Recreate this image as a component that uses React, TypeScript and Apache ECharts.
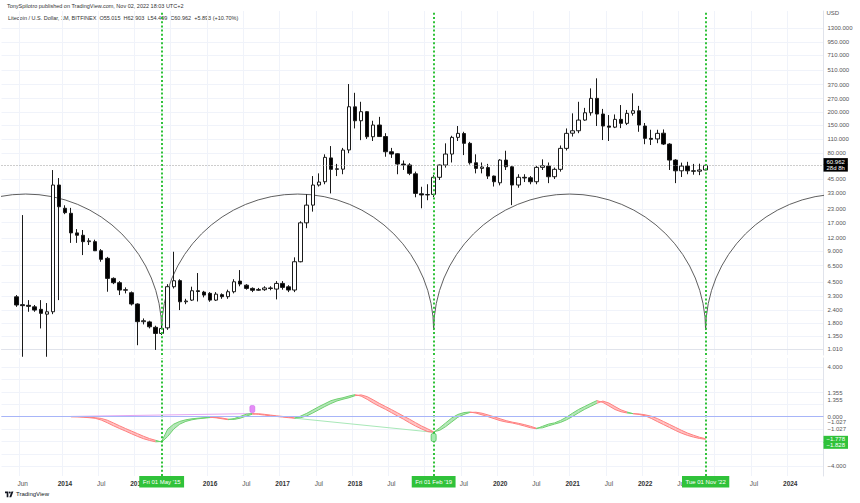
import React, { useEffect, useRef } from 'react';
import * as echarts from 'echarts';

const FONT = '"Liberation Sans", Arial, sans-serif';

// ---- data ----
const firstMonth = '2013-03';
const monthCount = 136;
const monthNames = ['Jan', 'Feb', 'Mar', 'Apr', 'May', 'Jun', 'Jul', 'Aug', 'Sep', 'Oct', 'Nov', 'Dec'];
const firstLabelMonth = '2013-06';

const headerLine = 'TonySpilotro published on TradingView.com, Nov 02, 2022 18:03 UTC+2';
const symbolTitle = 'Litecoin / U.S. Dollar, 1M, BITFINEX';
const ohlcLegend = ['O55.015', 'H62.903', 'L54.499', 'C60.962', '+5.893 (+10.70%)'];

// month, open, high, low, close
const candles: [string, number, number, number, number][] = [
  ['2013-05', 3.24, 3.37, 2.59, 2.70],
  ['2013-06', 2.72, 20.1, 0.85, 2.66],
  ['2013-07', 2.68, 3.01, 2.32, 2.62],
  ['2013-08', 2.59, 2.70, 2.32, 2.41],
  ['2013-09', 2.45, 3.01, 1.60, 2.24],
  ['2013-10', 2.20, 2.82, 0.85, 2.32],
  ['2013-11', 2.32, 54.9, 2.20, 39.3],
  ['2013-12', 39.3, 45.9, 3.01, 24.2],
  ['2014-01', 23.4, 25.0, 20.5, 21.2],
  ['2014-02', 20.9, 23.6, 10.8, 13.5],
  ['2014-03', 13.5, 14.7, 10.8, 12.8],
  ['2014-04', 12.8, 14.4, 8.23, 11.1],
  ['2014-05', 11.1, 12.0, 10.3, 11.3],
  ['2014-06', 11.1, 11.6, 9.0, 9.06],
  ['2014-07', 9.06, 9.4, 7.09, 7.48],
  ['2014-08', 7.65, 7.9, 3.63, 4.89],
  ['2014-09', 4.89, 5.0, 4.3, 4.44],
  ['2014-10', 4.44, 4.6, 3.37, 3.77],
  ['2014-11', 3.75, 4.0, 3.5, 3.80],
  ['2014-12', 3.55, 3.65, 2.67, 2.76],
  ['2015-01', 2.76, 2.8, 1.10, 1.86],
  ['2015-02', 1.86, 2.0, 1.75, 1.90],
  ['2015-03', 1.85, 1.9, 1.60, 1.66],
  ['2015-04', 1.64, 1.7, 0.99, 1.43],
  ['2015-05', 1.43, 1.72, 1.38, 1.60],
  ['2015-06', 1.62, 4.3, 1.55, 4.06],
  ['2015-07', 4.06, 8.86, 3.9, 4.64],
  ['2015-08', 4.65, 4.8, 2.41, 2.90],
  ['2015-09', 2.90, 3.1, 2.75, 2.95],
  ['2015-10', 3.01, 4.06, 2.95, 3.71],
  ['2015-11', 3.71, 5.51, 2.92, 3.65],
  ['2015-12', 3.60, 3.7, 3.2, 3.37],
  ['2016-01', 3.50, 3.6, 2.9, 3.01],
  ['2016-02', 3.01, 3.6, 2.95, 3.44],
  ['2016-03', 3.40, 3.5, 3.1, 3.25],
  ['2016-04', 3.25, 3.8, 3.1, 3.63],
  ['2016-05', 3.63, 4.8, 3.5, 4.53],
  ['2016-06', 4.6, 5.89, 4.1, 4.31],
  ['2016-07', 4.2, 4.3, 3.8, 3.91],
  ['2016-08', 3.91, 4.0, 3.6, 3.75],
  ['2016-09', 3.75, 3.95, 3.7, 3.82],
  ['2016-10', 3.80, 4.1, 3.7, 3.95],
  ['2016-11', 3.95, 4.1, 3.75, 3.90],
  ['2016-12', 3.85, 4.6, 3.06, 4.37],
  ['2017-01', 4.37, 4.6, 3.8, 4.0],
  ['2017-02', 4.05, 4.2, 3.6, 3.77],
  ['2017-03', 3.77, 7.82, 3.6, 7.09],
  ['2017-04', 7.09, 17.5, 7.0, 16.9],
  ['2017-05', 16.9, 32.0, 15.0, 25.1],
  ['2017-06', 25.1, 48.0, 21.7, 39.3],
  ['2017-07', 39.3, 51.0, 38.0, 42.0],
  ['2017-08', 42.3, 78.0, 40.0, 72.9],
  ['2017-09', 72.0, 93.8, 32.6, 55.8],
  ['2017-10', 55.8, 63.0, 48.0, 56.5],
  ['2017-11', 56.0, 90.0, 50.0, 85.8],
  ['2017-12', 86.0, 374.6, 80.0, 225.6],
  ['2018-01', 225.0, 308.0, 139.0, 165.0],
  ['2018-02', 165.0, 252.0, 107.0, 202.0],
  ['2018-03', 202.0, 205.0, 110.0, 115.5],
  ['2018-04', 115.5, 165.0, 105.0, 150.0],
  ['2018-05', 150.0, 180.0, 115.0, 116.0],
  ['2018-06', 116.0, 125.0, 73.9, 82.6],
  ['2018-07', 82.6, 90.0, 72.0, 78.5],
  ['2018-08', 79.0, 80.0, 50.0, 62.8],
  ['2018-09', 62.8, 68.0, 55.0, 61.5],
  ['2018-10', 61.5, 64.0, 49.0, 51.0],
  ['2018-11', 50.5, 53.0, 29.9, 32.6],
  ['2018-12', 32.3, 37.8, 23.4, 31.5],
  ['2019-01', 31.5, 40.0, 28.0, 31.8],
  ['2019-02', 31.9, 49.0, 30.0, 46.7],
  ['2019-03', 46.7, 62.0, 44.0, 61.4],
  ['2019-04', 61.4, 99.7, 58.0, 78.5],
  ['2019-05', 78.5, 118.0, 65.0, 113.9],
  ['2019-06', 113.9, 146.7, 105.0, 124.6],
  ['2019-07', 124.0, 129.0, 76.7, 99.7],
  ['2019-08', 99.7, 103.0, 62.0, 64.6],
  ['2019-09', 64.6, 78.0, 51.0, 57.0],
  ['2019-10', 57.0, 65.0, 51.0, 58.7],
  ['2019-11', 58.0, 63.0, 45.0, 48.0],
  ['2019-12', 48.0, 48.5, 38.0, 42.3],
  ['2020-01', 41.3, 70.0, 39.0, 68.6],
  ['2020-02', 68.6, 84.5, 55.0, 59.1],
  ['2020-03', 59.0, 60.0, 25.1, 39.3],
  ['2020-04', 39.3, 50.0, 37.0, 46.7],
  ['2020-05', 46.7, 50.0, 42.0, 46.0],
  ['2020-06', 46.2, 48.0, 40.0, 42.3],
  ['2020-07', 42.3, 60.0, 40.0, 58.3],
  ['2020-08', 58.3, 69.7, 55.0, 60.5],
  ['2020-09', 60.0, 65.0, 41.0, 47.3],
  ['2020-10', 47.3, 58.0, 45.0, 55.8],
  ['2020-11', 55.8, 95.0, 53.0, 89.1],
  ['2020-12', 89.1, 139.0, 85.0, 124.6],
  ['2021-01', 125.0, 194.7, 116.0, 132.0],
  ['2021-02', 132.0, 252.0, 125.0, 167.6],
  ['2021-03', 167.6, 220.0, 165.0, 197.3],
  ['2021-04', 197.3, 340.0, 185.0, 272.0],
  ['2021-05', 272.0, 425.6, 146.7, 191.7],
  ['2021-06', 191.7, 215.0, 107.3, 146.7],
  ['2021-07', 146.7, 187.5, 105.0, 143.0],
  ['2021-08', 143.0, 190.0, 140.0, 170.3],
  ['2021-09', 170.3, 234.4, 140.0, 155.8],
  ['2021-10', 155.8, 210.0, 150.0, 194.7],
  ['2021-11', 195.0, 304.3, 185.0, 206.4],
  ['2021-12', 206.0, 230.0, 129.0, 150.0],
  ['2022-01', 146.7, 157.0, 97.8, 111.4],
  ['2022-02', 111.4, 135.0, 96.0, 109.0],
  ['2022-03', 110.0, 135.0, 100.0, 124.6],
  ['2022-04', 125.0, 136.0, 96.0, 98.1],
  ['2022-05', 98.0, 100.0, 55.0, 68.6],
  ['2022-06', 68.6, 70.0, 41.0, 54.0],
  ['2022-07', 54.0, 64.8, 47.0, 60.0],
  ['2022-08', 60.0, 66.0, 50.0, 54.0],
  ['2022-09', 54.0, 63.0, 49.5, 53.5],
  ['2022-10', 53.5, 63.3, 49.0, 55.0],
  ['2022-11', 55.015, 62.903, 54.499, 60.962],
];

const priceTicks = [1300, 950, 710, 510, 370, 270, 200, 150, 110, 80, 45, 33, 23, 17, 12, 9, 6.5, 4.5, 3.3, 2.4, 1.8, 1.35, 1.01];
const priceRange = [0.884, 1913]; // visible price range of the log pane
const lastPrice = 60.962;
const countdownText = '28d 8h';

// cycles (time cycles drawing)
const cycleDates = ['2015-05', '2019-02', '2022-11'];
const cycleBoxLabels = ["Fri 01 May '15", "Fri 01 Feb '19", "Tue 01 Nov '22"];
const cycleMonths = 45;
const cycleBasePrice = 1.543;

// indicator ribbon (two lines) from Feb 2014 to Nov 2022
const ribbonStart = '2014-02';
const ribbonFast = [
  0, -0.01, -0.04, -0.08, -0.13, -0.27, -0.49, -0.73, -0.95, -1.16, -1.38,
  -1.59, -1.78, -1.92, -2.03, -2.00, -1.00, -0.60, -0.38, -0.25, -0.17, -0.12, -0.08,
  -0.05, -0.09, -0.17, -0.24, -0.15, 0.02, 0.20, 0.26, 0.19, 0.13, 0.07, 0.02,
  -0.03, -0.08, -0.12, 0.05, 0.27, 0.54, 0.81, 1.05, 1.29, 1.43, 1.53, 1.67,
  1.78, 1.66, 1.40, 1.10, 0.84, 0.60, 0.33, 0.06, -0.20, -0.49, -0.76, -0.99,
  -1.20, -1.26, -0.90, -0.50, -0.10, 0.18, 0.33, 0.38, 0.29, 0.15, 0.00, -0.16,
  -0.32, -0.43, -0.51, -0.62, -0.75, -0.89, -0.97, -0.78, -0.60, -0.50, -0.30, -0.03,
  0.29, 0.59, 0.83, 1.07, 1.30, 1.15, 0.87, 0.58, 0.40, 0.30, 0.25, 0.18,
  0.07, -0.14, -0.39, -0.63, -0.87, -1.11, -1.33, -1.51, -1.65, -1.76, -1.828,
];
const ribbonSlow = [
  0, 0, -0.01, -0.04, -0.08, -0.14, -0.28, -0.50, -0.73, -0.95, -1.16,
  -1.37, -1.58, -1.77, -1.91, -2.05, -1.60, -1.00, -0.60, -0.38, -0.25, -0.17, -0.12,
  -0.07, -0.06, -0.11, -0.20, -0.22, -0.12, 0.05, 0.20, 0.24, 0.19, 0.13, 0.07,
  0.02, -0.03, -0.10, -0.08, 0.06, 0.30, 0.56, 0.82, 1.06, 1.27, 1.41, 1.53,
  1.70, 1.76, 1.62, 1.36, 1.08, 0.83, 0.58, 0.32, 0.05, -0.20, -0.48, -0.75,
  -0.98, -1.22, -1.10, -0.80, -0.42, -0.05, 0.18, 0.34, 0.36, 0.28, 0.14, -0.01,
  -0.17, -0.32, -0.44, -0.53, -0.64, -0.77, -0.93, -0.90, -0.74, -0.60, -0.46, -0.25,
  0.02, 0.32, 0.60, 0.84, 1.08, 1.26, 1.10, 0.82, 0.55, 0.38, 0.24, 0.22,
  0.15, 0.04, -0.15, -0.38, -0.62, -0.86, -1.10, -1.32, -1.50, -1.66, -1.778,
];
const indicatorRange = [-4.79, 4.74];
const indicatorTicks = [4, 0, -4];
const indicatorGridValues = [4, 3, 2, 1, 0, -1, -2, -3, -4];
const indicatorSideLabels = [1.355, 1.355, -1.027, -1.027];
const indicatorLastValues = [-1.778, -1.828];
const divergenceA: [string, number][] = [['2014-02', 0.02], ['2016-08', 0.25]];
const divergenceB: [string, number][] = [['2017-03', -0.12], ['2019-02', -1.26]];
const markerA: [string, number] = ['2016-08', 0.62];
const markerB: [string, number] = ['2019-02', -1.68];

// ---- layout (pixels) ----
const INDICATOR_TOP = 358;
const INDICATOR_HEIGHT = 118;
const unitsPerPx = (indicatorRange[1] - indicatorRange[0]) / INDICATOR_HEIGHT;
// stacking offsets (px, upward positive) used to keep the side labels apart
const sideLabelLift = [6.8, 0, 7, 0];
const lastBoxDrop = 3.6;

// ---- helpers ----
const parseYM = (s: string) => {
  const [y, m] = s.split('-').map(Number);
  return { y, m };
};
const monthDiff = (a: string, b: string) => {
  const A = parseYM(a), B = parseYM(b);
  return (B.y - A.y) * 12 + (B.m - A.m);
};
const addMonths = (a: string, n: number) => {
  const A = parseYM(a);
  const t = A.y * 12 + (A.m - 1) + n;
  const y = Math.floor(t / 12);
  const m = (t % 12) + 1;
  return `${y}-${String(m).padStart(2, '0')}`;
};
const categories = Array.from({ length: monthCount }, (_, i) => addMonths(firstMonth, i));
const idx = (ym: string) => monthDiff(firstMonth, ym);
const lg = (v: number) => Math.log10(v);
const fmtSigned = (v: number) => (v < 0 ? '\u2212' : '') + Math.abs(v).toFixed(3);

const isGridMonth = (ym: string) => {
  const d = monthDiff(firstLabelMonth, ym);
  if (d === 0) return true;
  if (d < 0) return false;
  const { y, m } = parseYM(ym);
  return y > parseYM(firstLabelMonth).y && (m === 1 || m === 7);
};
const boxMap: Record<string, string> = {};
cycleDates.forEach((d, i) => (boxMap[d] = cycleBoxLabels[i]));
// labels fully covered by a date box are not drawn
const hiddenByBox = (ym: string) =>
  cycleDates.some((d) => {
    const k = monthDiff(d, ym);
    return k === -1 || (k > 0 && k <= 3);
  });

try {
  echarts.graphic.registerShape(
    'tvlogo',
    echarts.graphic.extendPath(
      'M0 2h14v24h-7v-17h-7z M16 6a4 4 0 1 0 8 0a4 4 0 1 0 -8 0z M27 2h8l-9 24h-8z',
      {}
    )
  );
} catch (e) {
  /* ignore */
}

const GREEN = '#30c23a';
const CLEAR = 'rgba(0,0,0,0)';

export default function App() {
  const ref = useRef<HTMLDivElement>(null);

  useEffect(() => {
    if (!ref.current) return;
    const chart = echarts.init(ref.current, undefined, { renderer: 'svg' });

    const candleData = candles.map(([m, o, h, l, c]) => [idx(m), lg(o), lg(c), lg(l), lg(h)]);

    const cycleIdx = cycleDates.map(idx);
    const arcs = [
      ...cycleIdx.map((i) => [i - cycleMonths, i, lg(cycleBasePrice)]),
      [cycleIdx[cycleIdx.length - 1], cycleIdx[cycleIdx.length - 1] + cycleMonths, lg(cycleBasePrice)],
    ];

    const r0 = idx(ribbonStart);
    const ribbonData = ribbonFast.slice(0, -1).map((f, i) => [
      r0 + i,
      f,
      ribbonSlow[i],
      ribbonFast[i + 1],
      ribbonSlow[i + 1],
    ]);

    const greenVLine = (d: string) => ({
      xAxis: d,
      lineStyle: { color: GREEN, type: [2, 2.2], width: 2 },
      label: { show: false },
    });

    const axisText = { fontSize: 6, color: '#555', fontFamily: FONT };

    const option: any = {
      animation: false,
      backgroundColor: '#ffffff',
      textStyle: { fontFamily: FONT },
      grid: [
        { left: 1.5, right: 36.5, top: 11, height: 344 },
        { left: 1.5, right: 36.5, top: INDICATOR_TOP, height: INDICATOR_HEIGHT },
      ],
      xAxis: [
        {
          type: 'category',
          gridIndex: 0,
          data: categories,
          boundaryGap: true,
          axisLine: { show: true, lineStyle: { color: '#e0e3eb' } },
          axisTick: { show: false },
          axisLabel: { show: false },
          splitLine: {
            show: true,
            interval: (_i: number, v: string) => isGridMonth(v),
            lineStyle: { color: '#f0f3fa', width: 1 },
          },
        },
        {
          type: 'category',
          gridIndex: 1,
          data: categories,
          boundaryGap: true,
          axisLine: { show: true, lineStyle: { color: '#e0e3eb' } },
          axisTick: { show: false },
          axisLabel: {
            interval: (_i: number, v: string) => !!boxMap[v] || (isGridMonth(v) && !hiddenByBox(v)),
            formatter: (v: string) => {
              if (boxMap[v]) return `{box|${boxMap[v]}}`;
              const { y, m } = parseYM(v);
              if (m === 1) return `{yr|${y}}`;
              return `{mo|${monthNames[m - 1]}}`;
            },
            margin: 0,
            rich: {
              yr: { fontSize: 6.5, fontWeight: 'bold', color: '#333', fontFamily: FONT, padding: [3.5, 0, 0, 0] },
              mo: { fontSize: 6.5, color: '#555', fontFamily: FONT, padding: [3.5, 0, 0, 0] },
              box: {
                fontSize: 6,
                color: '#ffffff',
                backgroundColor: GREEN,
                padding: [3, 3.5, 2.5, 3.5],
                fontFamily: FONT,
              },
            },
          },
          splitLine: {
            show: true,
            interval: (_i: number, v: string) => isGridMonth(v),
            lineStyle: { color: '#f0f3fa', width: 1 },
          },
        },
      ],
      yAxis: [
        {
          type: 'value',
          gridIndex: 0,
          position: 'right',
          min: lg(priceRange[0]),
          max: lg(priceRange[1]),
          axisLine: { show: true, lineStyle: { color: '#e0e3eb' } },
          axisTick: { show: false, customValues: priceTicks.map(lg) },
          axisLabel: {
            customValues: priceTicks.map(lg),
            formatter: (v: number) => Math.pow(10, v).toFixed(3),
            margin: 4,
            ...axisText,
          },
          splitLine: { show: true, lineStyle: { color: '#f0f3fa' } },
          name: 'USD',
          nameLocation: 'end',
          nameGap: -5,
          nameTextStyle: { align: 'left', padding: [0, 0, 0, 3], ...axisText },
        },
        {
          type: 'value',
          gridIndex: 1,
          position: 'right',
          min: indicatorRange[0],
          max: indicatorRange[1],
          axisLine: { show: true, lineStyle: { color: '#e0e3eb' } },
          axisTick: { show: false, customValues: indicatorGridValues },
          axisLabel: {
            customValues: indicatorTicks,
            formatter: (v: number) => fmtSigned(v),
            margin: 4,
            ...axisText,
          },
          splitLine: { show: true, lineStyle: { color: '#f0f3fa' } },
        },
      ],
      series: [
        {
          type: 'custom',
          name: 'cycles',
          xAxisIndex: 0,
          yAxisIndex: 0,
          clip: true,
          silent: true,
          data: arcs,
          encode: { x: [0, 1], y: 2 },
          z: 3,
          renderItem: (_p: any, api: any) => {
            const p0 = api.coord([api.value(0), api.value(2)]);
            const p1 = api.coord([api.value(1), api.value(2)]);
            const cx = (p0[0] + p1[0]) / 2;
            const r = Math.abs(p1[0] - p0[0]) / 2;
            return {
              type: 'arc',
              shape: { cx, cy: p0[1], r, startAngle: Math.PI, endAngle: 2 * Math.PI, clockwise: true },
              style: { stroke: '#4d4d4d', fill: null, lineWidth: 0.9 },
            };
          },
        },
        {
          type: 'candlestick',
          name: 'LTCUSD',
          xAxisIndex: 0,
          yAxisIndex: 0,
          data: candleData,
          encode: { x: 0, y: [1, 2, 3, 4] },
          barWidth: 4,
          z: 4,
          itemStyle: {
            color: '#ffffff',
            color0: '#000000',
            borderColor: '#1a1a1a',
            borderColor0: '#1a1a1a',
            borderWidth: 1,
          },
          markLine: {
            silent: true,
            symbol: ['none', 'none'],
            animation: false,
            data: [
              ...cycleDates.map(greenVLine),
              {
                yAxis: lg(lastPrice),
                lineStyle: { color: '#9a9a9a', type: [1, 2], width: 1 },
                label: {
                  show: true,
                  position: 'end',
                  distance: 0,
                  formatter: `{p|${lastPrice.toFixed(3)}}\n{p|${countdownText}}`,
                  rich: {
                    p: {
                      backgroundColor: '#000000',
                      color: '#ffffff',
                      fontSize: 6,
                      lineHeight: 6.5,
                      padding: [0.5, 3],
                      fontFamily: FONT,
                    },
                  },
                },
              },
            ],
          },
        },
        {
          type: 'custom',
          name: 'ribbon',
          xAxisIndex: 1,
          yAxisIndex: 1,
          clip: true,
          silent: true,
          data: ribbonData,
          encode: { x: 0, y: [1, 2, 3, 4] },
          z: 3,
          renderItem: (_p: any, api: any) => {
            const x0 = api.value(0);
            const a = api.coord([x0, api.value(1)]);
            const b = api.coord([x0 + 1, api.value(3)]);
            const c = api.coord([x0 + 1, api.value(4)]);
            const d = api.coord([x0, api.value(2)]);
            const up = api.value(3) >= api.value(4);
            const edge = up ? '#6fd16f' : '#ff8080';
            return {
              type: 'group',
              children: [
                {
                  type: 'polygon',
                  shape: { points: [a, b, c, d] },
                  style: { fill: up ? 'rgba(90,200,100,0.45)' : 'rgba(255,100,100,0.4)', stroke: null },
                },
                { type: 'polyline', shape: { points: [a, b] }, style: { stroke: edge, lineWidth: 1, fill: null } },
                { type: 'polyline', shape: { points: [d, c] }, style: { stroke: edge, lineWidth: 1, fill: null } },
              ],
            };
          },
        },
        {
          type: 'line',
          name: 'divA',
          xAxisIndex: 1,
          yAxisIndex: 1,
          data: divergenceA,
          symbol: 'none',
          lineStyle: { color: '#e3a6f2', width: 1 },
          z: 2,
          markPoint: {
            silent: true,
            symbol: 'roundRect',
            symbolSize: [5, 7],
            label: { show: false },
            itemStyle: { color: '#e58cf7', borderColor: '#c968e6', borderWidth: 0.5 },
            data: [{ coord: markerA }],
          },
        },
        {
          type: 'line',
          name: 'divB',
          xAxisIndex: 1,
          yAxisIndex: 1,
          data: divergenceB,
          symbol: 'none',
          lineStyle: { color: '#a8e8b8', width: 1 },
          z: 2,
          markPoint: {
            silent: true,
            symbol: 'roundRect',
            symbolSize: [5, 8],
            label: { show: false },
            itemStyle: { color: '#a6eab0', borderColor: '#3dbb4a', borderWidth: 0.7 },
            data: [{ coord: markerB }],
          },
          markLine: {
            silent: true,
            symbol: ['none', 'none'],
            animation: false,
            data: [
              ...cycleDates.map(greenVLine),
              {
                yAxis: 0,
                lineStyle: { color: '#a7b5f8', type: 'solid', width: 1 },
                label: { show: false },
              },
              ...indicatorSideLabels.map((v, i) => ({
                yAxis: v + sideLabelLift[i] * unitsPerPx,
                lineStyle: { color: CLEAR, width: 0 },
                label: {
                  show: true,
                  position: 'end',
                  distance: 4,
                  formatter: fmtSigned(v),
                  ...axisText,
                },
              })),
              {
                yAxis: indicatorLastValues[0] - lastBoxDrop * unitsPerPx,
                lineStyle: { color: CLEAR, width: 0 },
                label: {
                  show: true,
                  position: 'end',
                  distance: 0,
                  formatter: indicatorLastValues.map((v) => `{g|${fmtSigned(v)}}`).join('\n'),
                  rich: {
                    g: {
                      backgroundColor: GREEN,
                      color: '#ffffff',
                      fontSize: 6,
                      lineHeight: 6,
                      padding: [0.5, 3],
                      fontFamily: FONT,
                    },
                  },
                },
              },
            ],
          },
        },
      ],
      graphic: [
        {
          type: 'text',
          left: 7,
          top: 3,
          style: { text: headerLine, fontSize: 5.5, fill: '#333', fontFamily: FONT },
        },
        {
          type: 'text',
          left: 8,
          top: 14.5,
          style: { text: [symbolTitle, ...ohlcLegend].join('  '), fontSize: 5.5, fill: '#333', fontFamily: FONT },
        },
        {
          type: 'group',
          left: 5,
          top: 491,
          children: [
            { type: 'tvlogo', x: 0, y: 0, scaleX: 0.24, scaleY: 0.24, style: { fill: '#131722' } },
            {
              type: 'text',
              x: 11,
              y: 0,
              style: { text: 'TradingView', fontSize: 6, fill: '#131722', fontFamily: FONT },
            },
          ],
        },
      ],
    };

    chart.setOption(option);
    return () => chart.dispose();
  }, []);

  return (
    <div
      ref={ref}
      style={{ position: 'absolute', left: 0, top: 0, width: 860, height: 503, background: '#fff' }}
    />
  );
}
